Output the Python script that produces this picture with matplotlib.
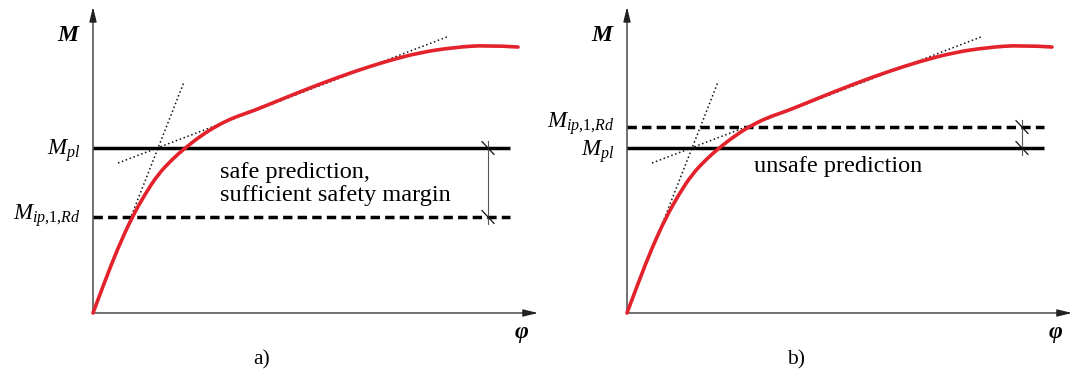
import numpy as np
import matplotlib
matplotlib.use("Agg")
import matplotlib.pyplot as plt
from matplotlib.path import Path
from matplotlib.patches import PathPatch

plt.rcParams['font.family'] = 'Liberation Serif'
plt.rcParams['mathtext.fontset'] = 'custom'
plt.rcParams['mathtext.rm'] = 'Liberation Serif'
plt.rcParams['mathtext.it'] = 'Liberation Serif:italic'
plt.rcParams['mathtext.bf'] = 'Liberation Serif:bold'

# moment-rotation curve (phi, M normalised to M_pl)
phi = [0.0, 0.3, 0.625, 0.975, 1.3, 1.625, 1.975, 2.3, 2.725, 3.125, 3.55,
       4.0, 4.85, 5.675, 6.5, 7.35, 8.175, 9.0, 9.85, 10.625]
M = [0.0, 0.195, 0.395, 0.58, 0.72, 0.84, 0.93, 1.0, 1.079, 1.139, 1.188,
     1.224, 1.309, 1.388, 1.461, 1.527, 1.579, 1.609, 1.624, 1.612]

# tangent lines (initial stiffness and hardening branch)
tan1_phi = [0.85, 2.275]
tan1_M = [0.521, 1.40]
tan2_phi = [0.625, 8.85]
tan2_M = [0.909, 1.673]

M_pl = 1.0
M_ip = {'a': 0.582, 'b': 1.127}
texts = {'a': 'safe prediction,\nsufficient safety margin', 'b': 'unsafe prediction'}
text_M = {'a': 0.78, 'b': 0.885}
# baselines of the M_pl and M_ip labels
label_M = {'a': (0.958, 0.564), 'b': (0.952, 1.122)}

phi_end = 10.425     # end of the horizontal lines
phi_dim = 9.875      # dimension line position
phi_axis = 11.125
M_axis = 1.855

red = '#e3222b'


def smooth_path(x, y):
    # quadratic bezier through the midpoints, data points as control points
    pts = np.column_stack([x, y])
    verts = [pts[0]]
    codes = [Path.MOVETO]
    for i in range(1, len(pts) - 1):
        mid = (pts[i] + pts[i + 1]) / 2.
        if i == len(pts) - 2:
            mid = pts[i + 1]
        verts += [pts[i], mid]
        codes += [Path.CURVE3, Path.CURVE3]
    return Path(verts, codes)


fig = plt.figure(figsize=(10.73, 3.78), dpi=100)
ax_a = fig.add_axes([0, 0, 560/1073., 1])
ax_a.set_xlim(-2.325, 11.675)
ax_b = fig.add_axes([534/1073., 0, 539/1073., 1])
ax_b.set_xlim(-2.325, 11.15)

for key, ax in [('a', ax_a), ('b', ax_b)]:
    ax.set_ylim(-0.394, 1.897)
    ax.axis('off')
    ax.patch.set_alpha(0)

    # axes with arrows
    ax.annotate('', xy=(phi_axis, 0), xytext=(0, 0), annotation_clip=False,
                arrowprops=dict(arrowstyle='-|>,head_length=0.9,head_width=0.22',
                                lw=0.9, color='#222222', shrinkA=0, shrinkB=0))
    ax.annotate('', xy=(0, M_axis), xytext=(0, 0), annotation_clip=False,
                arrowprops=dict(arrowstyle='-|>,head_length=0.9,head_width=0.22',
                                lw=0.9, color='#222222', shrinkA=0, shrinkB=0))

    ax.plot(tan1_phi, tan1_M, color='#111111', lw=1.1, ls=(0, (1, 1.7)))
    ax.plot(tan2_phi, tan2_M, color='#111111', lw=1.1, ls=(0, (1, 1.7)))

    ax.plot([0, phi_end], [M_pl, M_pl], color='black', lw=2.5, solid_capstyle='butt')
    ax.plot([0, phi_end], [M_ip[key], M_ip[key]], color='black', lw=2.5,
            dashes=(2.7, 1.5))

    ax.add_patch(PathPatch(smooth_path(phi, M), facecolor='none', edgecolor=red,
                           lw=2.6, capstyle='round', zorder=5))

    # dimension line between M_pl and M_ip
    lo, hi = sorted([M_pl, M_ip[key]])
    ax.plot([phi_dim, phi_dim], [lo - 0.045, hi + 0.045], color='#555555', lw=0.8)
    for y in [M_pl, M_ip[key]]:
        ax.plot([phi_dim - 0.15, phi_dim + 0.15], [y + 0.039, y - 0.039],
                color='#111111', lw=0.9)

    ax.text(-0.32, label_M[key][0], '$M_{pl}$', fontsize=16.5, ha='right', va='baseline')
    ax.text(-0.32, label_M[key][1], '$M_{ip{,}1{,}Rd}$', fontsize=16.5, ha='right',
            va='baseline')

    ax.text(3.175, text_M[key], texts[key], fontsize=17.5, ha='left', va='center',
            linespacing=1.12)

    ax.text(-0.62, 1.68, 'M', fontsize=17, fontweight='bold', fontstyle='italic',
            ha='center', va='center')
    ax.text(10.725, -0.12, 'φ', fontsize=17, fontweight='bold', fontstyle='italic',
            ha='center', va='center')
    ax.text(4.225, -0.285, key + ')', fontsize=15.5, ha='center', va='center')

fig.savefig('out.png', dpi=100)
